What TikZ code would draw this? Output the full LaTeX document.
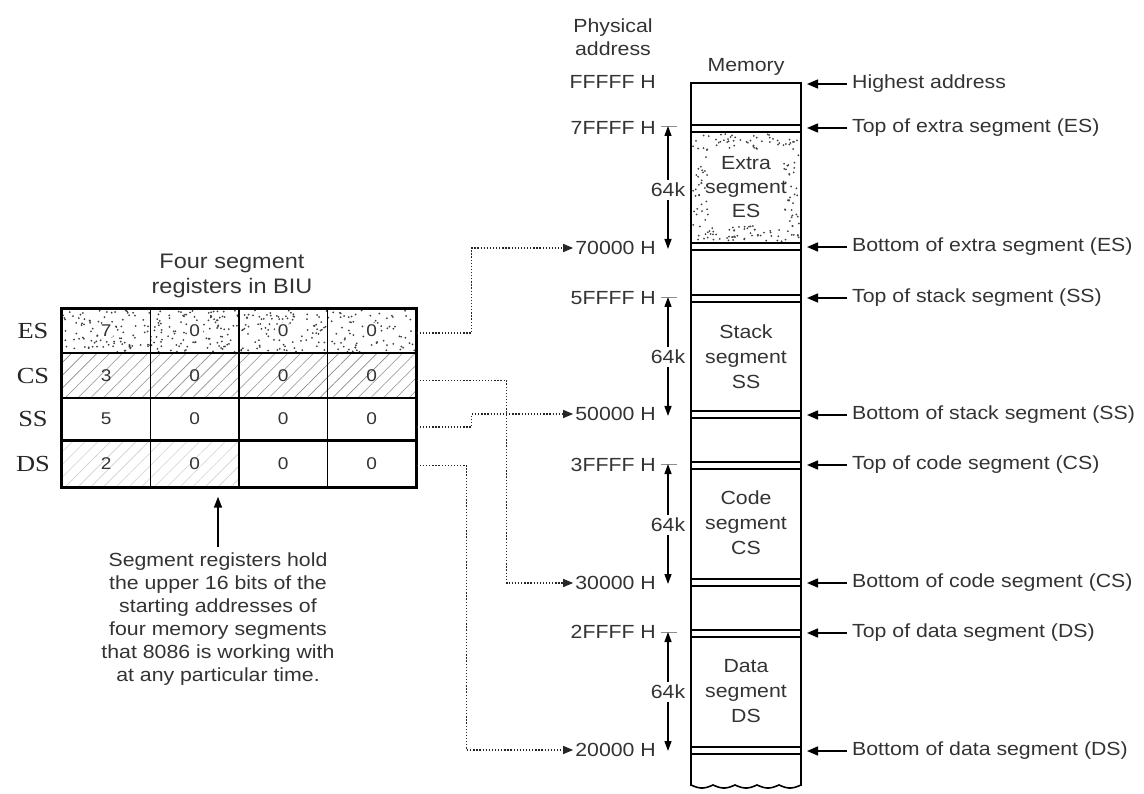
\documentclass[tikz,border=0pt]{standalone}
\usepackage{fontspec}
\setmainfont{Liberation Sans}[FakeStretch=1.12]
\newfontfamily\rowfont{Liberation Serif}[FakeStretch=1.15]
\usetikzlibrary{arrows.meta,calc,patterns.meta}
\newcommand\mystipple[5]{\foreach \k in {1,...,#5}{\pgfmathsetmacro\sx{#1+#3*rnd}\pgfmathsetmacro\sy{#2+#4*rnd}\fill[black!75] (\sx,\sy) circle (1.0);}}
\tikzset{
  txt/.style={font=\fontsize{19}{23}\selectfont, text=black!80, inner sep=2pt},
  cell/.style={draw, line width=1.4pt, minimum width=88.5pt, inner sep=0pt, font=\fontsize{17}{20}\selectfont, text=black!80},
  rowlab/.style={font=\rowfont\fontsize{23}{25}\selectfont, text=black!85},
  conn/.style={line width=1.3pt, black!85, dash pattern=on 1.3pt off 1.8pt, -{Triangle[length=10pt,width=8pt]}},
  larrow/.style={line width=1.5pt, -{Triangle[length=11pt,width=9pt]}},
  varrow/.style={line width=1.3pt, {Triangle[length=10pt,width=7pt]}-{Triangle[length=10pt,width=7pt]}},
  mem/.style={line width=1.6pt},
  tick/.style={line width=0.6pt, black!45},
  kk/.style={txt, fill=white, inner sep=3pt}
}
\begin{document}
\begin{tikzpicture}[x=1pt,y=-1pt]
\useasboundingbox (0,0) rectangle (1144,794);
% ---------------- register table ----------------
\pgfmathsetseed{7}
\mystipple{63}{310}{352}{42}{380}
\foreach \cx in {106.25,194.75,283.25,371.75} \fill[white] (\cx,331) circle (8.5);
\fill[pattern={Lines[angle=45,distance=9pt,line width=0.6pt]}, pattern color=black!45] (62,353) rectangle (416,398);
\fill[pattern={Lines[angle=45,distance=9pt,line width=0.6pt]}, pattern color=black!18] (62,440) rectangle (239,487);
\node[cell, minimum height=44pt] (es1) at (106.25,331) {7};
\node[cell, minimum height=44pt] (es2) at (194.75,331) {0};
\node[cell, minimum height=44pt] (es3) at (283.25,331) {0};
\node[cell, minimum height=44pt] (es4) at (371.75,331) {0};
\node[cell, minimum height=45pt] (cs1) at (106.25,375.5) {3};
\node[cell, minimum height=45pt] (cs2) at (194.75,375.5) {0};
\node[cell, minimum height=45pt] (cs3) at (283.25,375.5) {0};
\node[cell, minimum height=45pt] (cs4) at (371.75,375.5) {0};
\node[cell, minimum height=42pt] (ss1) at (106.25,419) {5};
\node[cell, minimum height=42pt] (ss2) at (194.75,419) {0};
\node[cell, minimum height=42pt] (ss3) at (283.25,419) {0};
\node[cell, minimum height=42pt] (ss4) at (371.75,419) {0};
\node[cell, minimum height=47pt] (ds1) at (106.25,463.5) {2};
\node[cell, minimum height=47pt] (ds2) at (194.75,463.5) {0};
\node[cell, minimum height=47pt] (ds3) at (283.25,463.5) {0};
\node[cell, minimum height=47pt] (ds4) at (371.75,463.5) {0};
\draw[line width=2.4pt] (es1.north west) rectangle (ds4.south east);
\draw[line width=2.2pt] (ss1.south west) -- (ss4.south east);
\node[rowlab] (les) at (33,331) {ES};
\node[rowlab] (lcs) at (33,376) {CS};
\node[rowlab] (lss) at (33,419) {SS};
\node[rowlab] (lds) at (33,464) {DS};
\node[txt, font=\fontsize{21}{25}\selectfont, align=center] (title) at (232,275.5) {Four segment\\registers in BIU};
\node[txt, align=center, anchor=north] (cap) at (218,551) {Segment registers hold\\the upper 16 bits of the\\starting addresses of\\four memory segments\\that 8086 is working with\\at any particular time.};
\draw[line width=1.5pt, -{Triangle[length=11pt,width=8pt]}, shorten <=4pt, shorten >=9pt] (cap.north) -- (ds2.south -| cap.north);
% ---------------- memory ----------------
\node[txt, align=center] (phys) at (613,37.5) {Physical\\address};
\node[txt] (memlab) at (746,67) {Memory};
\draw[mem] (691,786) -- (691,83) -- (801,83) -- (801,786);
\draw[mem] plot[domain=0:110,samples=111] ({691+\x},{785+3*abs(sin(8.1818*\x))});
\mystipple{693}{134}{106}{15}{50}
\mystipple{693}{226}{106}{16}{60}
\mystipple{693}{149}{16}{78}{32}
\mystipple{783}{149}{16}{78}{32}
\foreach \a in {125,243,295,411,462,579,630,747} {
  \draw[mem] (691,\a) -- (801,\a);
  \draw[mem] (691,\a+7) -- (801,\a+7);
}
\node[txt, align=center, font=\fontsize{19}{24}\selectfont] (segES) at (746,187) {Extra\\segment\\ES};
\node[txt, align=center, font=\fontsize{19}{25}\selectfont] (segSS) at (746,357) {Stack\\segment\\SS};
\node[txt, align=center, font=\fontsize{19}{25}\selectfont] (segCS) at (746,523) {Code\\segment\\CS};
\node[txt, align=center, font=\fontsize{19}{25}\selectfont] (segDS) at (746,691) {Data\\segment\\DS};
% addresses
\node[txt, anchor=east] (aF) at (658,82) {FFFFF H};
\node[txt, anchor=east] (a7F) at (658,128) {7FFFF H};
\node[txt, anchor=east] (a70) at (658,248) {70000 H};
\node[txt, anchor=east] (a5F) at (658,298) {5FFFF H};
\node[txt, anchor=east] (a50) at (658,414) {50000 H};
\node[txt, anchor=east] (a3F) at (658,465) {3FFFF H};
\node[txt, anchor=east] (a30) at (658,583) {30000 H};
\node[txt, anchor=east] (a2F) at (658,632) {2FFFF H};
\node[txt, anchor=east] (a20) at (658,750) {20000 H};
% 64k arrows
\foreach \t/\b/\m/\n in {126/249/190/ka, 297/416/357/kb, 464/584/525/kc, 632/751/692/kd} {
  \coordinate (\n t) at (668,\t);
  \coordinate (\n b) at (668,\b);
  \draw[tick] (661,\t) -- (677,\t);
  \draw[varrow] (\n t) -- (\n b);
  \node[kk] (\n) at (668,\m) {64k};
}
% right labels
\coordinate (memR) at (807,0);
\node[txt, anchor=west] (rH) at (850,84) {Highest address};
\node[txt, anchor=west] (r1) at (850,128) {Top of extra segment (ES)};
\node[txt, anchor=west] (r2) at (850,247) {Bottom of extra segment (ES)};
\node[txt, anchor=west] (r3) at (850,298) {Top of stack segment (SS)};
\node[txt, anchor=west] (r4) at (850,415) {Bottom of stack segment (SS)};
\node[txt, anchor=west] (r5) at (850,465) {Top of code segment (CS)};
\node[txt, anchor=west] (r6) at (850,583) {Bottom of code segment (CS)};
\node[txt, anchor=west] (r7) at (850,633) {Top of data segment (DS)};
\node[txt, anchor=west] (r8) at (850,751) {Bottom of data segment (DS)};
\foreach \r in {rH,r1,r2,r3,r4,r5,r6,r7,r8} \draw[larrow] ([xshift=-3pt]\r.west) -- (\r.west -| memR);
% connectors
\draw[conn] ($(es4.east)+(0,2)$) -- ++(55,0) |- (a70.west);
\draw[conn] ($(cs4.east)+(0,5)$) -- ++(90,0) |- (a30.west);
\draw[conn] ($(ss4.east)+(0,8)$) -- ++(55,0) |- (a50.west);
\draw[conn] ($(ds4.east)+(0,2)$) -- ++(50,0) |- (a20.west);
\end{tikzpicture}
\end{document}
